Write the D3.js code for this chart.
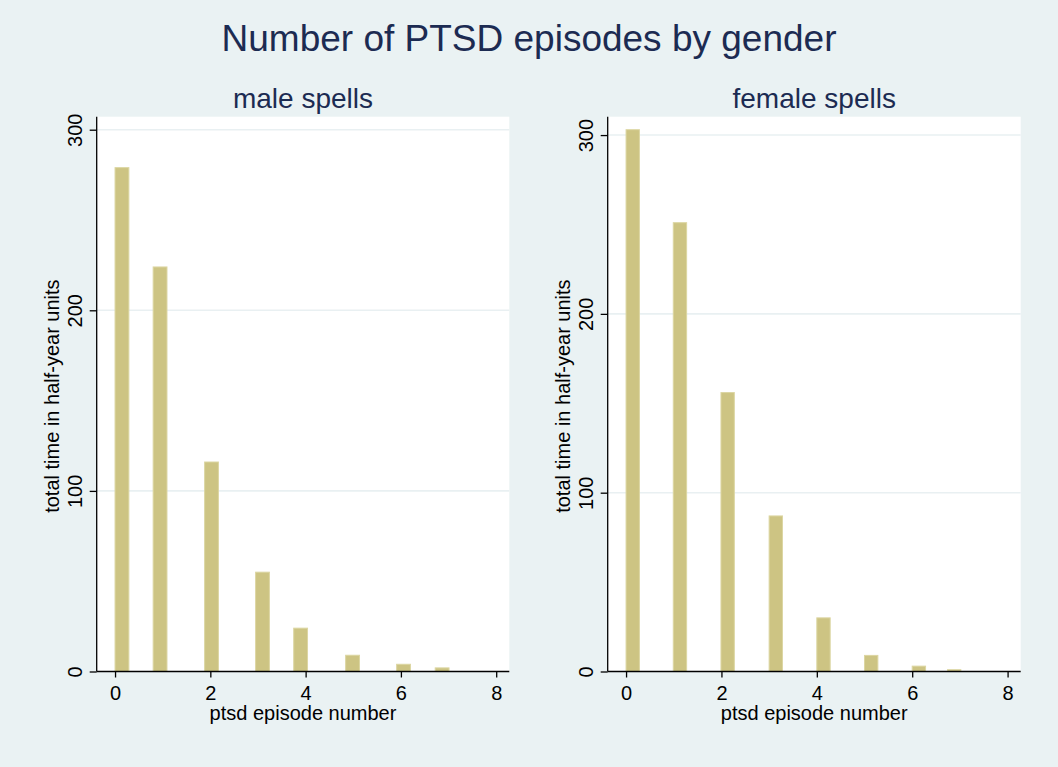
<!DOCTYPE html>
<html>
<head>
<meta charset="utf-8">
<script src="https://cdn.jsdelivr.net/npm/d3@7"></script>
<style>
  html, body { margin: 0; padding: 0; background: #eaf2f3; }
  svg { display: block; }
  text { font-family: "Liberation Sans", Arial, Helvetica, sans-serif; }
</style>
</head>
<body>
<svg id="chart" width="1058" height="767"></svg>
<script>
// Episode bins: left edge of each bar (episode number) and total time per bin
const maleBinStart   = [0, 0.80, 1.88, 2.95, 3.75, 4.84, 5.91, 6.72];
const maleTime       = [279, 224, 116, 55, 24, 9, 4, 2];
const femaleBinStart = [0, 0.99, 1.99, 3.00, 4.00, 5.00, 6.00, 6.74];
const femaleTime     = [303, 251, 156, 87, 30, 9, 3, 1];
const binWidth = [0.29, 0.28];

const xTicks = [0, 2, 4, 6, 8];
const yTicks = [0, 100, 200, 300];
const panelTitles = ["male spells", "female spells"];
const mainTitle = "Number of PTSD episodes by gender";
const xTitle = "ptsd episode number";
const yTitle = "total time in half-year units";

const svg = d3.select("#chart");
const W = 1058, H = 767;
const ink = "#000000";
const titleInk = "#1c2b52";
const barFill = "#cdc483";
const barEdge = "#dcd6a2";
const gridInk = "#e9f0f2";

svg.append("rect").attr("width", W).attr("height", H).attr("fill", "#eaf2f3");

svg.append("text")
  .attr("x", W / 2).attr("y", 51)
  .attr("text-anchor", "middle")
  .attr("font-size", 37).attr("fill", titleInk)
  .text(mainTitle);

const panels = [
  { left: 96.7, right: 509.3, starts: maleBinStart, vals: maleTime, w: binWidth[0], title: panelTitles[0] },
  { left: 607.7, right: 1020.7, starts: femaleBinStart, vals: femaleTime, w: binWidth[1], title: panelTitles[1] }
];
const plotTop = 116.7, plotBottom = 671.5;

panels.forEach(p => {
  const g = svg.append("g");

  // x domain padded past the tick range, as in the plot region
  const x = d3.scaleLinear().domain([-0.385, 8.275]).range([p.left, p.right]);
  const yMax = Math.max(d3.max(yTicks), d3.max(p.vals));
  const y = d3.scaleLinear().domain([0, yMax]).range([plotBottom, plotTop + 13]);

  // white plot region
  g.append("rect")
    .attr("x", p.left).attr("y", plotTop)
    .attr("width", p.right - p.left).attr("height", plotBottom - plotTop)
    .attr("fill", "#ffffff");

  // horizontal gridlines
  g.selectAll("line.grid").data(yTicks.filter(t => t > 0)).join("line")
    .attr("class", "grid")
    .attr("x1", p.left).attr("x2", p.right)
    .attr("y1", d => y(d)).attr("y2", d => y(d))
    .attr("stroke", gridInk).attr("stroke-width", 1.6);

  // bars
  g.selectAll("rect.bar").data(p.vals).join("rect")
    .attr("class", "bar")
    .attr("x", (d, i) => x(p.starts[i]))
    .attr("width", (d, i) => x(p.starts[i] + p.w) - x(p.starts[i]))
    .attr("y", d => y(d))
    .attr("height", d => y(0) - y(d))
    .attr("fill", barFill)
    .attr("stroke", barEdge).attr("stroke-width", 1);

  // y axis
  const yAxis = d3.axisLeft(y).tickValues(yTicks).tickSize(7).tickPadding(0).tickFormat(d3.format("d"));
  const ya = g.append("g").attr("transform", `translate(${p.left},0)`).call(yAxis);
  ya.select(".domain").attr("d", `M0,${plotTop}V${plotBottom}`).attr("stroke", ink).attr("stroke-width", 1.3);
  ya.selectAll(".tick line").attr("stroke", ink).attr("stroke-width", 1.3);
  ya.selectAll(".tick text")
    .attr("x", null).attr("dy", null)
    .attr("transform", "translate(-15,0) rotate(-90)")
    .attr("text-anchor", "middle")
    .attr("font-size", 20).attr("fill", ink)
    .attr("font-family", "Liberation Sans, Arial, sans-serif");

  // x axis
  const xAxis = d3.axisBottom(x).tickValues(xTicks).tickSize(6).tickPadding(0).tickFormat(d3.format("d"));
  const xa = g.append("g").attr("transform", `translate(0,${plotBottom})`).call(xAxis);
  xa.select(".domain").attr("d", `M${p.left},0H${p.right}`).attr("stroke", ink).attr("stroke-width", 1.3);
  xa.selectAll(".tick line").attr("stroke", ink).attr("stroke-width", 1.3);
  xa.selectAll(".tick text")
    .attr("y", 28).attr("dy", null)
    .attr("font-size", 20).attr("fill", ink)
    .attr("font-family", "Liberation Sans, Arial, sans-serif");

  // axis titles
  g.append("text")
    .attr("x", (p.left + p.right) / 2).attr("y", 720)
    .attr("text-anchor", "middle").attr("font-size", 20).attr("fill", ink)
    .text(xTitle);
  g.append("text")
    .attr("transform", `translate(${p.left - 37.5},${(plotTop + plotBottom) / 2 + 2}) rotate(-90)`)
    .attr("text-anchor", "middle").attr("font-size", 20).attr("fill", ink)
    .text(yTitle);

  // panel title
  g.append("text")
    .attr("x", (p.left + p.right) / 2).attr("y", 108)
    .attr("text-anchor", "middle").attr("font-size", 28).attr("fill", titleInk)
    .text(p.title);
});
</script>
</body>
</html>
